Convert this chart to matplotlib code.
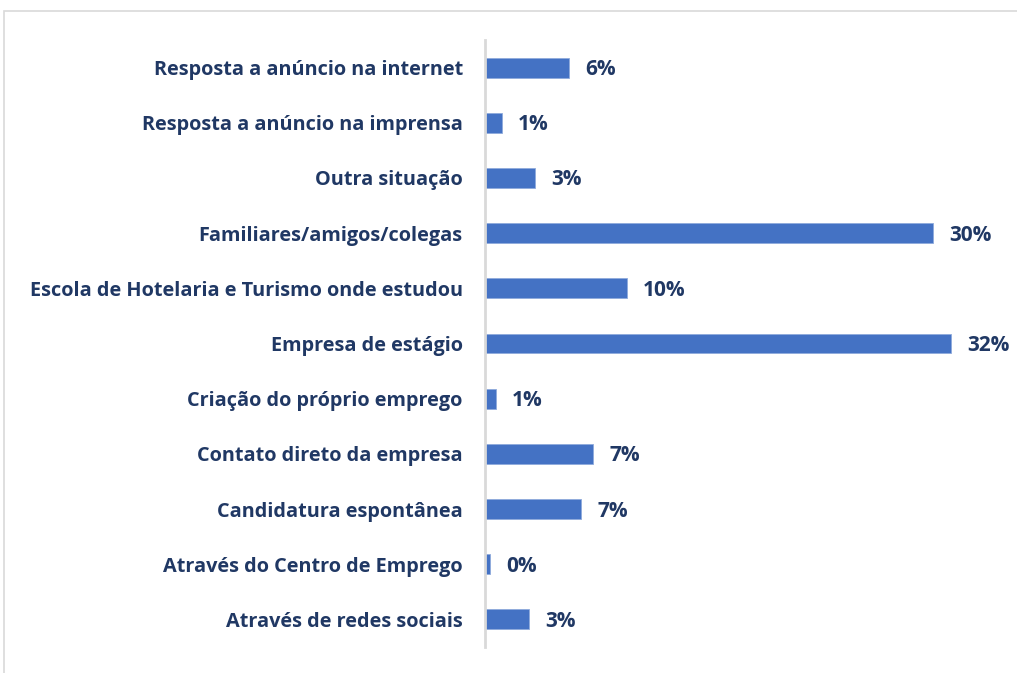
import matplotlib
matplotlib.use("Agg")
import matplotlib.pyplot as plt
from matplotlib.patches import Rectangle

categories = [
    "Resposta a anúncio na internet",
    "Resposta a anúncio na imprensa",
    "Outra situação",
    "Familiares/amigos/colegas",
    "Escola de Hotelaria e Turismo onde estudou",
    "Empresa de estágio",
    "Criação do próprio emprego",
    "Contato direto da empresa",
    "Candidatura espontânea",
    "Através do Centro de Emprego",
    "Através de redes sociais",
]
values = [5.7, 1.15, 3.4, 30.3, 9.6, 31.5, 0.75, 7.3, 6.5, 0.35, 3.0]
value_labels = ["6%", "1%", "3%", "30%", "10%", "32%", "1%", "7%", "7%", "0%", "3%"]

W, H = 1017, 673
fig = plt.figure(figsize=(W / 100, H / 100), dpi=100)
fig.patches.append(Rectangle((4 / W, -0.1), 1.2, 1 - 11 / H + 0.1, transform=fig.transFigure,
                             fill=False, edgecolor="#d9d9d9", linewidth=1.2))

left, right, top, bottom = 485, 1000, 40, 647
ax = fig.add_axes([left / W, 1 - bottom / H, (right - left) / W, (bottom - top) / H])
ypos = list(range(len(categories)))
ax.barh(ypos, values, height=0.36, color="#4472C4", edgecolor="#8faadc", linewidth=0.6)
ax.set_ylim(len(categories) - 0.5, -0.5)
ax.set_xlim(0, 515 / 14.8)
ax.set_yticks(ypos)
txtcol = "#203864"
font = dict(fontweight="bold", color=txtcol, family="Open Sans")
ax.set_yticklabels(categories, fontsize=14.3, **font)
ax.tick_params(axis="y", length=0, pad=16)
ax.set_xticks([])
for s in ["top", "right", "bottom"]:
    ax.spines[s].set_visible(False)
ax.spines["left"].set_color("#d9d9d9")
ax.spines["left"].set_linewidth(2)
for y, v, lab in zip(ypos, values, value_labels):
    ax.annotate(lab, (v, y), xytext=(16, -2), textcoords="offset pixels",
                va="center", ha="left", fontsize=15, **font)

fig.savefig("out.png", dpi=100)
